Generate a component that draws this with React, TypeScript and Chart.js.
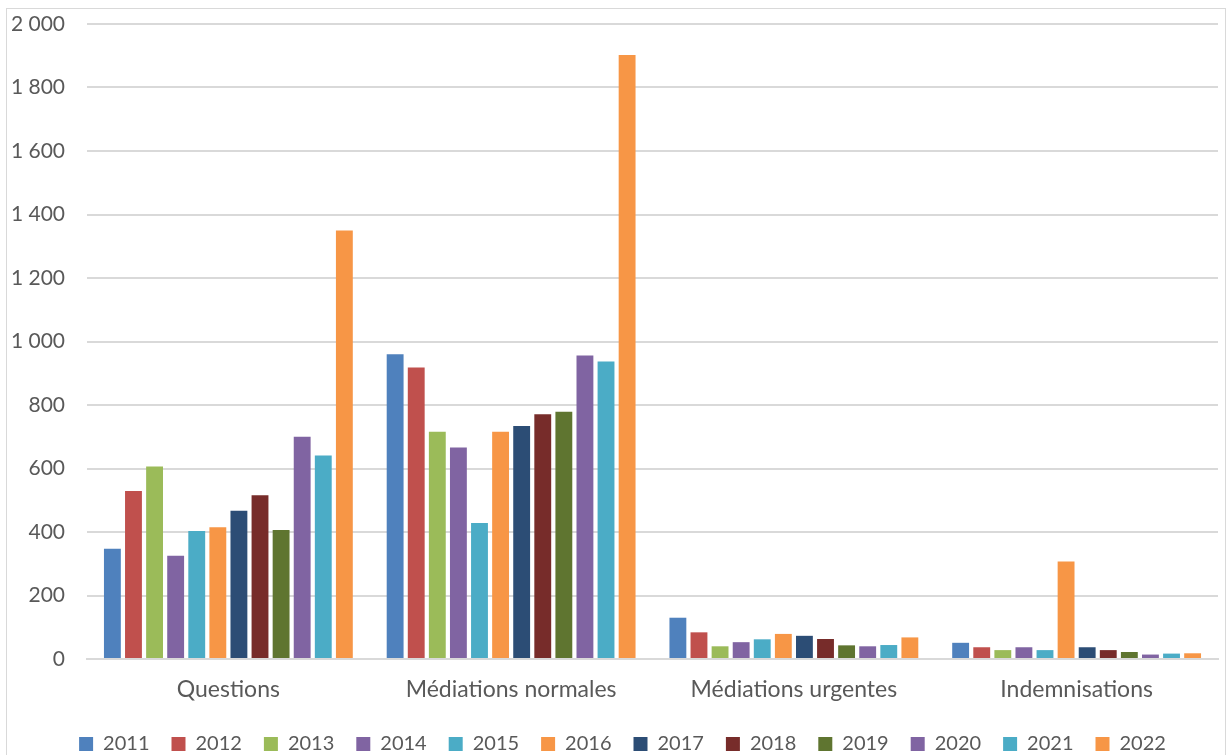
import React, { useEffect, useRef } from "react";
import { Chart, registerables } from "chart.js";

Chart.register(...registerables);

const categories = ["Questions", "Médiations normales", "Médiations urgentes", "Indemnisations"];
const years = ["2011", "2012", "2013", "2014", "2015", "2016", "2017", "2018", "2019", "2020", "2021", "2022"];

const v2011 = [347, 960, 130, 51];
const v2012 = [529, 918, 84, 37];
const v2013 = [606, 716, 40, 28];
const v2014 = [325, 666, 53, 37];
const v2015 = [403, 428, 62, 28];
const v2016 = [415, 716, 79, 307];
const v2017 = [467, 734, 73, 37];
const v2018 = [516, 771, 63, 28];
const v2019 = [406, 779, 43, 22];
const v2020 = [700, 956, 40, 14];
const v2021 = [641, 937, 44, 17];
const v2022 = [1350, 1902, 68, 18];

const seriesValues = [v2011, v2012, v2013, v2014, v2015, v2016, v2017, v2018, v2019, v2020, v2021, v2022];

const colors = [
  "#4F81BD", "#C0504D", "#9BBB59", "#8064A2", "#4BACC6", "#F79646",
  "#2C4D75", "#772C2A", "#5F7530", "#8064A2", "#4BACC6", "#F79646",
];

const FONT = "Lato, 'Open Sans', sans-serif";
const TEXT = "#595959";

const formatThousands = (v: number) =>
  String(v).replace(/\B(?=(\d{3})+(?!\d))/g, " ");

// Nudges the legend row a little to the right of the canvas centre.
const legendShift = {
  id: "legendShift",
  afterLayout(chart: any) {
    const lg = chart.legend;
    if (!lg) return;
    lg.left += 10;
    lg.right += 10;
  },
};

export default function App() {
  const ref = useRef<HTMLCanvasElement | null>(null);

  useEffect(() => {
    if (!ref.current) return;
    const chart = new Chart(ref.current, {
      type: "bar",
      data: {
        labels: categories,
        datasets: years.map((y, i) => ({
          label: y,
          data: seriesValues[i],
          backgroundColor: colors[i],
          borderWidth: 0,
          barPercentage: 0.8,
          categoryPercentage: 0.895,
        })),
      },
      plugins: [legendShift],
      options: {
        animation: false,
        responsive: false,
        maintainAspectRatio: false,
        layout: { padding: { left: 0, right: 7, top: 0, bottom: 0 } },
        plugins: {
          tooltip: { enabled: false },
          legend: {
            position: "bottom",
            labels: {
              boxWidth: 14,
              boxHeight: 14,
              padding: 22,
              color: TEXT,
              font: { family: FONT, size: 20 },
            },
          },
        },
        scales: {
          x: {
            grid: { display: false, drawTicks: false },
            border: { display: true, color: "#d9d9d9", width: 2 },
            ticks: { color: TEXT, font: { family: FONT, size: 23 }, padding: 17 },
            afterFit: (s: any) => { s.height = 53; },
          },
          y: {
            min: 0,
            max: 2000,
            grid: { color: "#d9d9d9", lineWidth: 2, drawTicks: false },
            border: { display: false },
            ticks: {
              stepSize: 200,
              color: TEXT,
              font: { family: FONT, size: 21 },
              padding: 22,
              callback: (v: any) => formatThousands(Number(v)),
            },
            afterFit: (s: any) => {
              s.width = 80;
              s.paddingTop = 15;
              s.paddingBottom = 0;
            },
          },
        },
      },
    });
    return () => chart.destroy();
  }, []);

  return (
    <div
      style={{
        position: "absolute",
        left: 6,
        top: 8,
        width: 1218,
        height: 760,
        border: "1px solid #d9d9d9",
        background: "#fff",
      }}
    >
      <canvas ref={ref} width={1218} height={755} style={{ display: "block" }} />
    </div>
  );
}
